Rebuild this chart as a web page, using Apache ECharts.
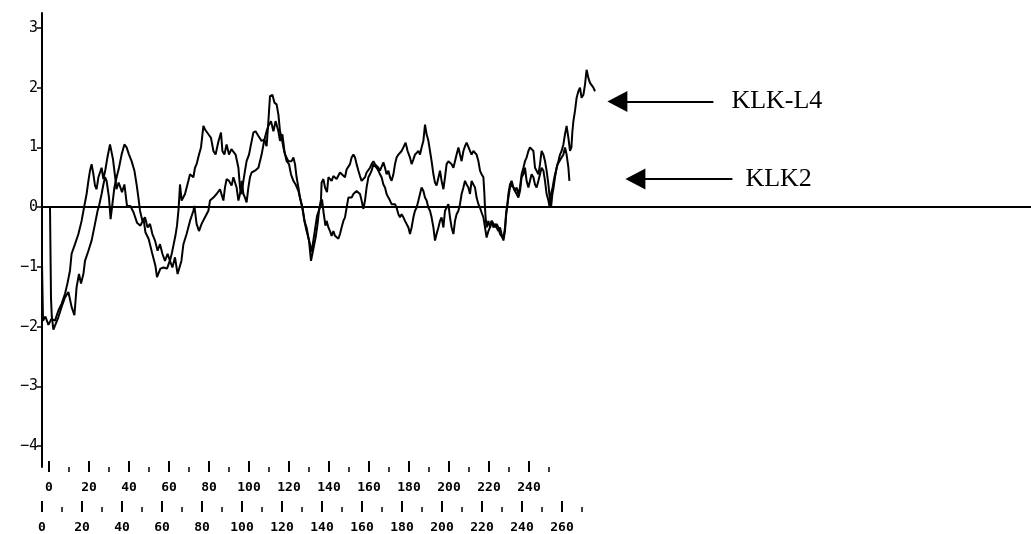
<!DOCTYPE html>
<html>
<head>
<meta charset="UTF-8">
<title>KLK-L4 / KLK2 hydrophobicity</title>
<script src="https://cdn.jsdelivr.net/npm/echarts@6/dist/echarts.min.js"></script>
<style>
  html, body { margin: 0; padding: 0; background: #fff; }
  #chart { width: 1031px; height: 534px; }
</style>
</head>
<body>
<div id="chart"></div>
<script>
// tick values
var yTicks = [-4, -3, -2, -1, 0, 1, 2, 3];
var klk2Major = [0, 20, 40, 60, 80, 100, 120, 140, 160, 180, 200, 220, 240];
var klk2Minor = [10, 30, 50, 70, 90, 110, 130, 150, 170, 190, 210, 230, 250];
var klkL4Major = [0, 20, 40, 60, 80, 100, 120, 140, 160, 180, 200, 220, 240, 260];
var klkL4Minor = [10, 30, 50, 70, 90, 110, 130, 150, 170, 190, 210, 230, 250, 270];

// [residue, hydrophobicity], KLK-L4 uses the lower residue scale
var klkL4Points = [
  [0,-0.93],[0.5,-1.90],[1.7,-1.83],[3.2,-1.97],[4.7,-1.87],[6.5,-1.90],[8.2,-1.73],[9.8,-1.62],[11.5,-1.45],[12.7,-1.28],
  [14.0,-1.06],[14.8,-0.78],[16.5,-0.62],[18.2,-0.45],[19.8,-0.23],[21.0,-0.01],[22.3,0.22],[23.2,0.44],[24.0,0.61],[24.8,0.72],
  [25.7,0.55],[26.5,0.36],[27.3,0.30],[28.2,0.50],[29.8,0.66],[30.7,0.47],[31.7,0.63],[32.7,0.83],[34.0,1.05],[35.5,0.80],
  [36.7,0.47],[37.2,0.30],[38.3,0.41],[39.2,0.33],[40.0,0.25],[41.2,0.38],[42.5,0.02],[44.2,0.02],[45.8,-0.09],[47.5,-0.26],
  [49.2,-0.31],[50.8,-0.20],[51.7,-0.42],[53.3,-0.53],[55.0,-0.76],[56.7,-0.98],[57.5,-1.17],[59.2,-1.03],[60.8,-1.01],[62.5,-1.03],
  [64.2,-0.87],[65.0,-0.76],[66.7,-0.48],[67.5,-0.31],[68.3,-0.03],[69.0,0.38],[69.8,0.11],[71.5,0.22],[73.2,0.44],[74.0,0.55],
  [75.7,0.50],[76.5,0.66],[77.3,0.72],[78.5,0.88],[79.5,1.00],[80.7,1.36],[81.5,1.30],[83.2,1.22],[84.5,1.16],[85.7,0.94],
  [86.8,0.88],[88.2,1.10],[89.5,1.25],[90.2,0.94],[91.2,0.88],[92.3,1.05],[93.5,0.88],[94.7,0.97],[95.7,1.00],[96.8,0.88],
  [98.2,0.66],[99.0,0.33],[99.8,0.22],[100.7,0.44],[101.5,0.61],[102.3,0.77],[103.5,0.88],[104.5,1.05],[105.7,1.25],[106.8,1.27],
  [108.2,1.19],[109.8,1.11],[111.2,1.13],[112.3,1.02],[113.2,1.44],[114.0,1.86],[115.2,1.88],[116.2,1.75],[117.3,1.72],[118.2,1.55],
  [119.0,1.27],[119.8,1.16],[120.7,1.00],[121.5,0.88],[123.2,0.77],[124.8,0.77],[125.7,0.83],[126.5,0.72],[127.3,0.50],[128.2,0.33],
  [129.0,0.16],[130.2,-0.01],[131.2,-0.23],[132.3,-0.34],[133.5,-0.56],[134.5,-0.90],[135.2,-0.78],[136.8,-0.51],[137.8,-0.28],[138.5,-0.06],
  [139.5,0.13],[139.8,0.41],[140.7,0.47],[141.5,0.33],[142.5,0.25],[143.2,0.50],[144.8,0.44],[145.7,0.52],[146.5,0.55],[147.3,0.47],
  [148.2,0.50],[149.0,0.58],[149.8,0.61],[151.5,0.50],[152.3,0.63],[153.2,0.66],[154.0,0.72],[154.8,0.83],[155.7,0.88],[156.5,0.83],
  [157.3,0.72],[158.2,0.61],[159.0,0.52],[159.8,0.44],[160.7,0.41],[161.5,0.50],[162.3,0.58],[163.2,0.55],[164.0,0.66],[164.8,0.72],
  [165.7,0.77],[166.5,0.72],[167.3,0.75],[168.2,0.66],[169.0,0.61],[169.8,0.63],[170.7,0.75],[171.5,0.66],[172.3,0.55],[173.2,0.61],
  [174.0,0.50],[174.8,0.44],[175.7,0.55],[176.5,0.72],[177.3,0.83],[178.2,0.88],[179.8,0.94],[180.7,1.00],[181.8,1.08],[182.8,0.94],
  [184.0,0.83],[184.8,0.72],[185.7,0.80],[186.5,0.88],[187.3,0.91],[188.2,0.94],[189.0,0.88],[189.8,1.00],[190.7,1.11],[191.5,1.38],
  [192.3,1.22],[193.2,1.11],[194.0,0.94],[194.8,0.77],[195.7,0.55],[196.5,0.41],[197.3,0.36],[198.2,0.38],[199.0,0.61],[199.8,0.44],
  [200.7,0.30],[201.5,0.50],[202.3,0.72],[203.2,0.77],[204.0,0.75],[204.8,0.72],[205.7,0.66],[206.5,0.77],[207.3,0.88],[208.2,1.00],
  [209.0,0.88],[209.8,0.77],[210.7,0.94],[211.5,1.02],[212.3,1.08],[213.2,1.05],[214.0,0.94],[214.8,0.88],[215.7,0.94],[216.5,0.91],
  [217.3,0.88],[218.2,0.77],[219.0,0.61],[219.8,0.55],[220.7,0.50],[221.2,0.22],[221.5,-0.01],[221.8,-0.17],[222.3,-0.34],[223.2,-0.23],
  [224.0,-0.34],[224.8,-0.23],[225.7,-0.34],[226.5,-0.28],[227.3,-0.34],[228.2,-0.40],[229.0,-0.34],[229.8,-0.45],[230.7,-0.56],[231.5,-0.40],
  [232.0,-0.12],[232.7,0.05],[233.2,0.22],[234.0,0.38],[234.8,0.44],[235.7,0.33],[236.5,0.27],[237.3,0.33],[238.2,0.22],[239.0,0.33],
  [239.8,0.55],[240.7,0.66],[241.5,0.77],[242.3,0.83],[243.2,0.94],[244.0,1.00],[244.8,1.02],[245.7,0.94],[246.5,0.66],[247.3,0.61],
  [248.2,0.55],[249.0,0.72],[249.8,0.94],[250.7,0.88],[251.5,0.77],[252.3,0.61],[253.2,0.38],[254.0,0.11],[254.5,-0.01],[255.2,0.22],
  [255.8,0.33],[256.5,0.50],[257.3,0.66],[258.2,0.77],[259.0,0.88],[259.8,0.94],[260.7,1.05],[261.5,1.22],[262.3,1.36],[263.2,1.16],
  [264.0,0.94],[264.7,1.00],[265.2,1.27],[265.7,1.44],[266.5,1.61],[267.3,1.83],[268.2,1.94],[269.0,2.00],[269.8,1.83],[270.7,1.88],
  [271.5,2.05],[272.3,2.30],[273.2,2.16],[274.0,2.08],[274.8,2.05],[275.7,2.00],[276.5,1.94]
];

// KLK2 uses the upper residue scale
var klk2Points = [
  [0.5,0.00],[1.0,-1.53],[1.4,-1.83],[2.2,-2.05],[3.0,-2.06],[4.7,-1.84],[6.3,-1.67],[8.0,-1.51],[9.7,-1.42],[11.3,-1.67],
  [12.7,-1.81],[13.8,-1.34],[15.0,-1.12],[16.0,-1.28],[17.2,-1.12],[18.0,-0.90],[19.7,-0.73],[21.3,-0.56],[23.0,-0.28],[24.3,-0.06],
  [25.0,0.02],[26.3,0.22],[27.2,0.38],[28.0,0.50],[28.8,0.44],[30.0,0.16],[30.8,-0.20],[31.7,0.05],[32.7,0.33],[33.8,0.50],
  [35.0,0.66],[36.3,0.88],[37.7,1.05],[38.8,1.00],[40.0,0.88],[41.3,0.77],[42.7,0.61],[43.8,0.38],[44.7,0.16],[45.5,-0.06],
  [46.7,-0.23],[48.0,-0.17],[49.3,-0.34],[50.5,-0.28],[51.7,-0.45],[53.0,-0.56],[54.3,-0.73],[55.5,-0.62],[56.7,-0.78],[58.0,-0.90],
  [59.3,-0.78],[60.5,-0.90],[61.7,-1.01],[63.0,-0.84],[64.3,-1.12],[65.0,-1.15],[66.2,-0.90],[67.2,-0.62],[68.8,-0.45],[70.5,-0.23],
  [72.2,-0.06],[72.7,0.02],[73.8,-0.28],[75.0,-0.40],[76.3,-0.28],[78.0,-0.17],[79.7,-0.06],[80.5,0.11],[82.2,0.16],[83.8,0.22],
  [85.5,0.30],[86.3,0.27],[87.2,0.11],[88.0,0.33],[88.8,0.47],[90.0,0.44],[91.3,0.36],[92.2,0.50],[93.0,0.52],[93.8,0.33],
  [94.7,0.11],[95.5,0.22],[96.3,0.44],[97.2,0.22],[98.0,0.16],[98.8,0.08],[99.7,0.33],[100.5,0.50],[101.3,0.58],[103.0,0.61],
  [104.7,0.66],[106.3,0.88],[107.7,1.13],[108.8,1.27],[109.7,1.36],[111.0,1.44],[112.2,1.27],[113.3,1.44],[114.7,1.27],[115.5,1.11],
  [116.7,1.22],[117.7,0.94],[118.8,0.77],[120.0,0.72],[121.0,0.55],[122.2,0.44],[123.3,0.38],[124.7,0.27],[125.8,0.11],[126.7,-0.01],
  [128.0,-0.28],[128.8,-0.40],[130.5,-0.62],[131.3,-0.75],[132.3,-0.53],[134.0,-0.15],[135.7,0.02],[136.5,0.13],[137.3,-0.09],[138.2,-0.31],
  [138.8,-0.23],[139.7,-0.34],[140.5,-0.40],[141.3,-0.48],[142.2,-0.40],[143.0,-0.48],[143.8,-0.51],[144.7,-0.53],[145.5,-0.45],[146.3,-0.34],
  [147.2,-0.23],[148.0,-0.17],[148.8,-0.01],[149.7,0.16],[150.5,0.19],[151.3,0.16],[152.2,0.22],[153.0,0.25],[153.8,0.27],[154.7,0.27],
  [155.5,0.22],[156.3,0.11],[157.2,-0.03],[158.0,0.11],[158.8,0.33],[159.7,0.50],[160.5,0.55],[161.3,0.61],[162.2,0.72],[163.0,0.75],
  [163.8,0.66],[164.7,0.61],[165.5,0.55],[166.3,0.50],[167.2,0.38],[168.0,0.33],[168.8,0.22],[169.7,0.16],[170.5,0.11],[171.3,0.05],
  [172.2,0.02],[173.0,0.05],[173.8,-0.01],[174.7,-0.12],[175.5,-0.17],[176.3,-0.12],[177.2,-0.17],[178.0,-0.23],[178.8,-0.23],[179.7,-0.34],
  [180.5,-0.45],[181.3,-0.34],[182.2,-0.17],[183.0,-0.06],[183.8,-0.01],[184.7,0.11],[185.5,0.22],[186.3,0.33],[187.2,0.27],[188.0,0.16],
  [188.8,0.11],[189.7,-0.01],[190.5,-0.06],[191.3,-0.17],[192.2,-0.34],[193.0,-0.56],[193.8,-0.45],[194.7,-0.34],[195.5,-0.23],[196.3,-0.17],
  [197.2,-0.34],[198.0,-0.06],[198.8,-0.01],[199.7,0.05],[200.5,-0.17],[201.3,-0.34],[202.2,-0.45],[203.0,-0.23],[203.8,-0.12],[204.7,-0.06],
  [205.5,0.05],[206.3,0.22],[207.2,0.33],[208.0,0.44],[208.8,0.38],[209.7,0.33],[210.5,0.22],[211.3,0.44],[212.2,0.38],[213.0,0.33],
  [213.8,0.16],[214.7,0.05],[215.5,-0.01],[216.3,-0.09],[217.2,-0.17],[218.0,-0.34],[218.8,-0.51],[219.7,-0.40],[220.5,-0.34],[221.3,-0.23],
  [222.2,-0.28],[223.0,-0.34],[223.8,-0.28],[224.7,-0.34],[225.5,-0.45],[226.3,-0.48],[227.2,-0.53],[228.0,-0.34],[228.8,-0.06],[229.7,0.16],
  [230.5,0.33],[231.3,0.38],[232.2,0.33],[233.0,0.27],[233.8,0.22],[234.7,0.16],[235.5,0.27],[236.3,0.50],[237.2,0.55],[238.0,0.66],
  [238.8,0.44],[239.7,0.33],[240.5,0.44],[241.3,0.55],[242.2,0.50],[243.0,0.38],[243.8,0.33],[244.7,0.44],[245.5,0.55],[246.3,0.66],
  [247.2,0.61],[248.0,0.44],[248.8,0.22],[249.7,0.11],[250.2,0.02],[251.0,0.22],[251.8,0.33],[252.7,0.50],[253.5,0.61],[254.3,0.72],
  [255.2,0.77],[256.3,0.83],[257.2,0.88],[258.0,1.00],[258.8,0.88],[259.7,0.66],[260.2,0.44]
];

// arrow annotations, in KLK-L4 residue / value units: [tail, head, level]
var arrowL4 = [335.7, 287.7, 1.77];
var arrowK2 = [345.2, 296.7, 0.47];

var chart = echarts.init(document.getElementById('chart'), null, { renderer: 'canvas' });

var ink = '#000';
var tickFont = { fontFamily: 'DejaVu Sans Mono', fontSize: 13, fontWeight: 'bold', color: ink };

function resAxis(min, max, offset, ticks, len, width, labels) {
  return {
    type: 'value', position: 'bottom', gridIndex: 0,
    min: min, max: max, offset: offset,
    axisLine: { show: false, onZero: false },
    splitLine: { show: false },
    axisTick: { show: true, inside: true, length: len, customValues: ticks,
                lineStyle: { color: ink, width: width } },
    axisLabel: labels ? Object.assign({ show: true, margin: 9, customValues: ticks }, tickFont)
                      : { show: false }
  };
}

function arrowLine(a, name) {
  return [
    { coord: [a[0], a[2]], symbol: 'none',
      label: { show: true, position: 'start', formatter: name, distance: name === 'KLK-L4' ? 18 : 13,
               fontFamily: 'Liberation Serif', fontSize: 26, color: ink } },
    { coord: [a[1], a[2]], symbol: 'triangle', symbolSize: [21, 20] }
  ];
}

var option = {
  animation: false,
  backgroundColor: '#fff',
  grid: { left: 42, top: 13, right: 0, height: 456 },
  xAxis: [
    resAxis(-3.5, 491, 5, klk2Major, 11, 2, true),
    resAxis(-3.5, 491, 5, klk2Minor, 5, 1.5, false),
    resAxis(0, 494.5, 45, klkL4Major, 11, 2, true),
    resAxis(0, 494.5, 45, klkL4Minor, 5, 1.5, false)
  ],
  yAxis: {
    type: 'value', min: -4.35, max: 3.25,
    axisLine: { show: true, onZero: false, lineStyle: { color: ink, width: 2 } },
    axisTick: { show: true, length: 5, customValues: yTicks, lineStyle: { color: ink, width: 1.5 } },
    axisLabel: { show: true, margin: 4, customValues: yTicks, fontFamily: 'DejaVu Sans Mono',
                 fontSize: 15, color: ink,
                 formatter: function (v) { return String(v).replace('-', '\u2212'); } },
    splitLine: { show: false }
  },
  series: [
    {
      name: 'KLK2', type: 'line', xAxisIndex: 0, data: klk2Points,
      showSymbol: false, symbol: 'none',
      lineStyle: { color: ink, width: 2 },
      markLine: {
        silent: true, symbol: 'none', label: { show: false },
        lineStyle: { color: ink, width: 2, type: 'solid' },
        data: [{ yAxis: 0 }]
      }
    },
    {
      name: 'KLK-L4', type: 'line', xAxisIndex: 2, data: klkL4Points,
      showSymbol: false, symbol: 'none',
      lineStyle: { color: ink, width: 2 },
      markLine: {
        silent: true,
        lineStyle: { color: ink, width: 2, type: 'solid' },
        data: [arrowLine(arrowL4, 'KLK-L4'), arrowLine(arrowK2, 'KLK2')]
      }
    }
  ]
};

chart.setOption(option);
</script>
</body>
</html>
